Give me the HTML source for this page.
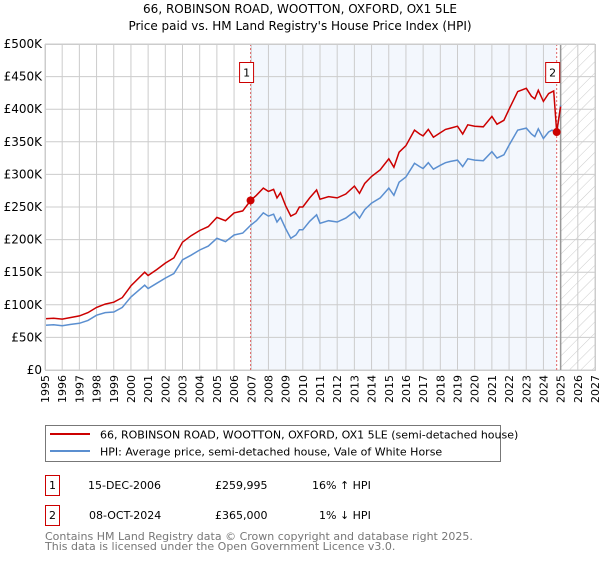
<!DOCTYPE html>
<html><head><meta charset="utf-8"><style>
body{margin:0;background:#fff;width:600px;height:560px;overflow:hidden;font-family:"DejaVu Sans","Liberation Sans",sans-serif}
</style></head><body>
<svg id="chart" width="600" height="560" xmlns="http://www.w3.org/2000/svg" font-family="DejaVu Sans, Liberation Sans, sans-serif">
<defs><pattern id="hatch" width="8" height="8" patternUnits="userSpaceOnUse" patternTransform="rotate(45)"><line x1="0" y1="0" x2="0" y2="8" stroke="#ccc" stroke-width="1"/></pattern></defs>
<text x="300" y="13" text-anchor="middle" font-size="12">66, ROBINSON ROAD, WOOTTON, OXFORD, OX1 5LE</text>
<text x="300" y="30" text-anchor="middle" font-size="12">Price paid vs. HM Land Registry's House Price Index (HPI)</text>
<g id="plot"></g>
<g>
<rect x="45.5" y="425.5" width="455" height="36" fill="#fff" stroke="#777"/>
<line x1="50" y1="434" x2="90" y2="434" stroke="#cc0000" stroke-width="2"/>
<text x="100" y="438.5" font-size="11">66, ROBINSON ROAD, WOOTTON, OXFORD, OX1 5LE (semi-detached house)</text>
<line x1="50" y1="451" x2="90" y2="451" stroke="#5b8fd0" stroke-width="2"/>
<text x="100" y="455.5" font-size="11">HPI: Average price, semi-detached house, Vale of White Horse</text>
</g>
<g font-size="11">
<rect x="45.5" y="475.5" width="14" height="20" fill="#fff" stroke="#cc0000"/>
<text x="52.5" y="489" text-anchor="middle">1</text>
<text x="88" y="489">15-DEC-2006</text><text x="215" y="489">£259,995</text><text x="312" y="489">16% ↑ HPI</text>
<rect x="45.5" y="505.5" width="14" height="20" fill="#fff" stroke="#cc0000"/>
<text x="52.5" y="519" text-anchor="middle">2</text>
<text x="89" y="519">08-OCT-2024</text><text x="215" y="519">£365,000</text><text x="319" y="519">1% ↓ HPI</text>
</g>
<text x="45" y="540" font-size="11" fill="#777">Contains HM Land Registry data © Crown copyright and database right 2025.</text>
<text x="45" y="550" font-size="11" fill="#777">This data is licensed under the Open Government Licence v3.0.</text>
</svg>
<script>
const years=[1995,1996,1997,1998,1999,2000,2001,2002,2003,2004,2005,2006,2007,2008,2009,2010,2011,2012,2013,2014,2015,2016,2017,2018,2019,2020,2021,2022,2023,2024,2025,2026,2027];
const yTicks=[0,50000,100000,150000,200000,250000,300000,350000,400000,450000,500000];
const yTickLabels=["£0","£50K","£100K","£150K","£200K","£250K","£300K","£350K","£400K","£450K","£500K"];
const hpiDates=[1995.0,1995.5,1996.0,1996.5,1997.0,1997.5,1998.0,1998.5,1999.0,1999.5,2000.0,2000.8,2001.0,2001.5,2002.0,2002.5,2003.0,2003.5,2004.0,2004.5,2005.0,2005.5,2006.0,2006.5,2006.96,2007.3,2007.7,2008.0,2008.3,2008.5,2008.7,2009.0,2009.3,2009.6,2009.8,2010.0,2010.4,2010.8,2011.0,2011.5,2012.0,2012.5,2013.0,2013.3,2013.6,2014.0,2014.5,2015.0,2015.3,2015.6,2016.0,2016.5,2016.8,2017.0,2017.3,2017.6,2018.0,2018.3,2018.6,2019.0,2019.3,2019.6,2020.0,2020.5,2021.0,2021.3,2021.7,2022.0,2022.5,2023.0,2023.3,2023.5,2023.7,2024.0,2024.3,2024.5,2024.77,2025.0];
const hpiValues=[68500,69500,68000,70000,71600,76000,84000,88000,89000,96000,112000,130000,125000,133000,141000,148000,169000,176000,184000,190000,202000,197000,207000,210000,222000,229000,241000,236000,239000,227000,234000,217000,202000,207000,215000,215000,228000,238000,225000,229000,227000,233000,243000,233000,246000,256000,264000,279000,268000,288000,296000,317000,312000,309000,318000,308000,314000,318000,320000,322000,312000,324000,322000,321000,335000,325000,330000,345000,368000,371000,362000,358000,370000,355000,365000,368000,363000,406000];
const priceDates=[1995.0,1995.5,1996.0,1996.5,1997.0,1997.5,1998.0,1998.5,1999.0,1999.5,2000.0,2000.8,2001.0,2001.5,2002.0,2002.5,2003.0,2003.5,2004.0,2004.5,2005.0,2005.5,2006.0,2006.5,2006.96,2007.3,2007.7,2008.0,2008.3,2008.5,2008.7,2009.0,2009.3,2009.6,2009.8,2010.0,2010.4,2010.8,2011.0,2011.5,2012.0,2012.5,2013.0,2013.3,2013.6,2014.0,2014.5,2015.0,2015.3,2015.6,2016.0,2016.5,2016.8,2017.0,2017.3,2017.6,2018.0,2018.3,2018.6,2019.0,2019.3,2019.6,2020.0,2020.5,2021.0,2021.3,2021.7,2022.0,2022.5,2023.0,2023.3,2023.5,2023.7,2024.0,2024.3,2024.6,2024.77,2025.0];
const priceValues=[78500,79500,78000,80500,83000,88000,96000,101000,104000,111000,129000,150000,145000,154000,164000,172000,196000,206000,214000,220000,234000,229000,241000,244000,259995,268000,279000,274000,277000,264000,272000,252000,236000,240000,250000,250000,264000,276000,262000,266000,264000,270000,282000,271000,286000,297000,307000,324000,311000,334000,344000,368000,362000,359000,369000,357000,364000,369000,371000,374000,362000,376000,374000,373000,389000,377000,383000,400000,427000,432000,420000,416000,429000,412000,424000,428000,365000,404000];
const sales=[{n:"1",date:2006.96,value:259995},{n:"2",date:2024.77,value:365000}];
const X0=45,X1=595,Y0=370,Y1=44;
const xs=d=>X0+(d-1995)/(2027-1995)*(X1-X0);
const ys=v=>Y0-v/500000*(Y0-Y1);
const NS="http://www.w3.org/2000/svg";
const g=document.getElementById('plot');
function mk(t,a){const e=document.createElementNS(NS,t);for(const k in a)e.setAttribute(k,a[k]);g.appendChild(e);return e;}
let r=mk('rect',{x:xs(sales[0].date),y:Y1,width:xs(sales[1].date)-xs(sales[0].date),height:Y0-Y1,fill:'#eef3fc',opacity:0.7});


let h=mk('rect',{x:xs(2025),y:Y1,width:X1-xs(2025),height:Y0-Y1,fill:'url(#hatch)'});


years.forEach(y=>{const l=mk('line',{x1:xs(y),x2:xs(y),y1:Y1,y2:Y0,stroke:'#cccccc'});


const t=mk('text',{x:0,y:0,'font-size':11,'text-anchor':'end',transform:`translate(${xs(y)+4},${Y0+5}) rotate(-90)`});
t.textContent=y;

});
yTicks.forEach((v,i)=>{const l=mk('line',{x1:X0,x2:X1,y1:ys(v),y2:ys(v),stroke:'#cccccc'});


const t=mk('text',{x:X0-3,y:ys(v)+4,'font-size':12,'text-anchor':'end'});
t.textContent=yTickLabels[i];

});
const v25=mk('line',{x1:xs(2025),x2:xs(2025),y1:Y1,y2:Y0,stroke:'#999','stroke-width':1.5});


sales.forEach(s=>{const l=mk('line',{x1:xs(s.date),x2:xs(s.date),y1:Y1,y2:Y0,stroke:'#e06666','stroke-dasharray':'2,2'});

});
const pts=(d,v)=>d.map((x,i)=>xs(x).toFixed(1)+','+ys(v[i]).toFixed(1)).join(' ');
const hl=mk('polyline',{points:pts(hpiDates,hpiValues),fill:'none',stroke:'#5b8fd0','stroke-width':1.5});


const pl=mk('polyline',{points:pts(priceDates,priceValues),fill:'none',stroke:'#cc0000','stroke-width':1.5});


sales.forEach(s=>{const c=mk('circle',{cx:xs(s.date),cy:ys(s.value),r:4,fill:'#cc0000'});


const b=mk('rect',{x:xs(s.date)-11,y:62.5,width:14,height:20,fill:'#fff',stroke:'#cc0000'});


const t=mk('text',{x:xs(s.date)-4,y:76.5,'font-size':11,'text-anchor':'middle'});
t.textContent=s.n;

});
const f=mk('rect',{x:X0+0.5,y:Y1+0.5,width:X1-X0,height:Y0-Y1,fill:'none',stroke:'#cccccc'});


</script>
</body></html>
